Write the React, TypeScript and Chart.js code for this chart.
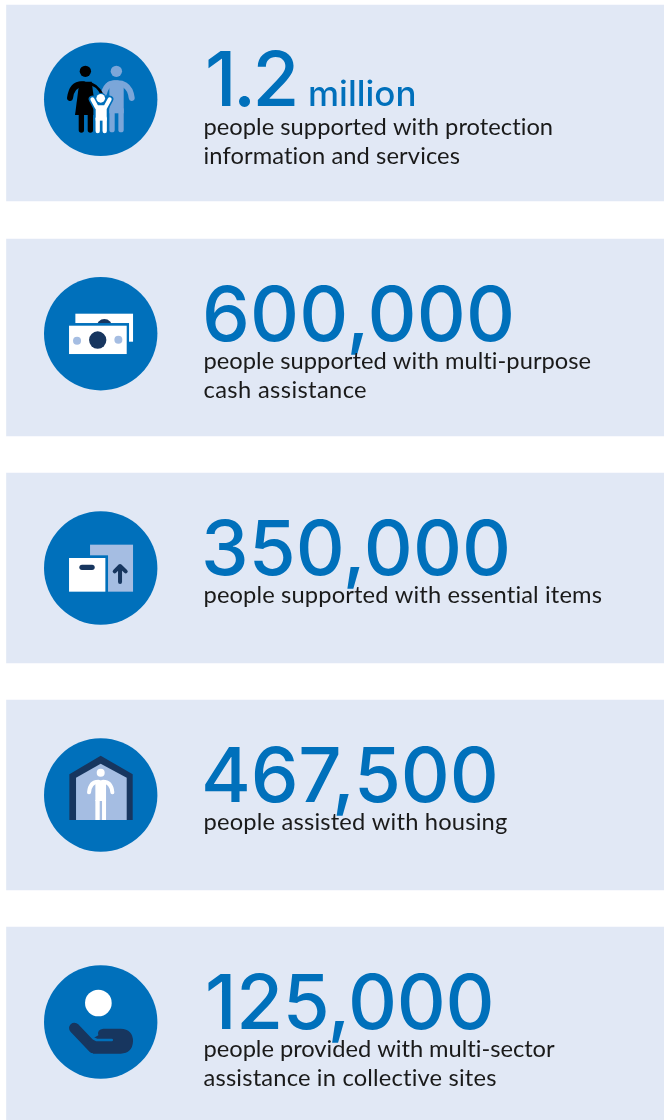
import { useEffect, useRef } from "react";
import { Chart, registerables } from "chart.js";

Chart.register(...registerables);

// ---- data ----
const peopleReached = [1200000, 600000, 350000, 467500, 125000];
const captions = [
  ["people supported with protection", "information and services"],
  ["people supported with multi-purpose", "cash assistance"],
  ["people supported with essential items"],
  ["people assisted with housing"],
  ["people provided with multi-sector", "assistance in collective sites"],
];
const iconNames = ["family", "cash", "items", "housing", "sites"];

// ---- layout (not data) ----
const W = 664;
const H = 1120;
const panelTops = [5, 239, 473, 700, 927];
const panelBottoms = [201, 436, 663, 890, 1120];
const iconCentres = [99.3, 333.7, 568, 795, 1022];
const PANEL_LEFT = 6.5;
const ICON_X = 100.7;
const ICON_R = 56.7;
const TEXT_X = 204;
const HEAD_FONT = "Inter";
const CAP_FONT = "Lato";
const HEAD_SIZE = 76;
const UNIT_SIZE = 35;
const CAP_SIZE = 23.7;
const headShift = [1, -2, -3, -3, 1];
const headSpacing = [-3.5, 0.15, 0.05, -0.2, -0.35];
const capShift = [36, 35.3, 35, 35, 35];
const capWidths = [[350, 257], [388, 163.5], [399], [304], [351.5, 293.5]];

const BLUE = "#0070bb";
const PANEL = "#e1e8f5";
const DARK = "#17365f";
const LIGHT = "#a5bde2";
const MID = "#7ba6d9";

type C = CanvasRenderingContext2D;

function circle(c: C, x: number, y: number, r: number, fill: string) {
  c.fillStyle = fill;
  c.beginPath();
  c.arc(x, y, r, 0, Math.PI * 2);
  c.fill();
}
function rect(c: C, x0: number, y0: number, x1: number, y1: number, fill: string) {
  c.fillStyle = fill;
  c.fillRect(x0, y0, x1 - x0, y1 - y0);
}
function poly(c: C, pts: number[][], fill: string) {
  c.fillStyle = fill;
  c.beginPath();
  pts.forEach((p, i) => (i ? c.lineTo(p[0], p[1]) : c.moveTo(p[0], p[1])));
  c.closePath();
  c.fill();
}
function stroke(c: C, pts: number[][], w: number, col: string) {
  c.strokeStyle = col;
  c.lineWidth = w;
  c.lineCap = "round";
  c.lineJoin = "round";
  c.beginPath();
  pts.forEach((p, i) => (i ? c.lineTo(p[0], p[1]) : c.moveTo(p[0], p[1])));
  c.stroke();
}
function curve(c: C, a: number[], q: number[], b: number[], w: number, col: string) {
  c.strokeStyle = col;
  c.lineWidth = w;
  c.lineCap = "round";
  c.beginPath();
  c.moveTo(a[0], a[1]);
  c.quadraticCurveTo(q[0], q[1], b[0], b[1]);
  c.stroke();
}

// Icons are drawn in a 3x local grid around each circle's centre.
const icons: Record<string, { oy: number; draw: (c: C) => void }> = {
  family: {
    oy: 208,
    draw(c) {
      // man
      circle(c, 259, 124, 17, MID);
      curve(c, [240, 163], [298, 148], [305, 204], 18, MID);
      curve(c, [270, 163], [232, 150], [222, 190], 18, MID);
      rect(c, 238, 158, 281, 250, MID);
      stroke(c, [[246, 240], [246, 299]], 16, MID);
      stroke(c, [[273, 240], [273, 299]], 16, MID);
      // woman
      circle(c, 166, 124, 17, "#000");
      curve(c, [160, 163], [126, 160], [120, 204], 18, "#000");
      curve(c, [172, 160], [200, 160], [218, 196], 8, "#000");
      poly(c, [[148, 155], [185, 155], [198, 255], [135, 255]], "#000");
      stroke(c, [[154, 250], [154, 300]], 16, "#000");
      stroke(c, [[181, 250], [181, 300]], 16, "#000");
      // child
      stroke(c, [[187, 208], [200, 232], [226, 232], [239, 208]], 22, BLUE);
      rect(c, 190, 225, 237, 312, BLUE);
      circle(c, 212, 205, 17, BLUE);
      circle(c, 212, 205, 13, "#fff");
      stroke(c, [[187, 208], [200, 232], [226, 232], [239, 208]], 12, "#fff");
      rect(c, 197, 230, 230, 272, "#fff");
      stroke(c, [[203, 265], [203, 303]], 13, "#fff");
      stroke(c, [[224, 265], [224, 303]], 13, "#fff");
    },
  },
  cash: {
    oy: 206,
    draw(c) {
      rect(c, 136, 146, 309, 230, "#fff");
      circle(c, 223, 186, 24, DARK);
      rect(c, 110, 174, 297, 272, BLUE);
      rect(c, 117, 182, 290, 267, "#fff");
      circle(c, 141, 227, 12, LIGHT);
      circle(c, 265, 224, 12, LIGHT);
      circle(c, 203, 225, 26, DARK);
    },
  },
  items: {
    oy: 204,
    draw(c) {
      rect(c, 180, 134, 309, 275, LIGHT);
      rect(c, 110, 166, 234, 280, BLUE);
      rect(c, 117, 174, 226, 275, "#fff");
      stroke(c, [[156, 202], [186, 202]], 16, DARK);
      stroke(c, [[270, 246], [270, 200]], 12, DARK);
      stroke(c, [[254, 214], [270, 198], [287, 214]], 12, DARK);
    },
  },
  housing: {
    oy: 210,
    draw(c) {
      poly(c, [[118, 285], [118, 148], [212, 92], [308, 148], [308, 285]], DARK);
      poly(c, [[138, 285], [138, 158], [212, 116], [290, 158], [290, 285]], LIGHT);
      circle(c, 212, 143, 12, "#fff");
      curve(c, [177, 202], [180, 170], [205, 170], 12, "#fff");
      curve(c, [247, 202], [244, 170], [219, 170], 12, "#fff");
      rect(c, 196, 166, 228, 228, "#fff");
      rect(c, 196, 225, 209, 285, "#fff");
      rect(c, 216, 225, 228, 285, "#fff");
    },
  },
  sites: {
    oy: 210,
    draw(c) {
      circle(c, 205, 153, 40, "#fff");
      stroke(c, [[133, 228], [190, 288]], 32, DARK);
      c.fillStyle = DARK;
      c.beginPath();
      c.moveTo(220, 230);
      c.lineTo(272, 230);
      c.quadraticCurveTo(309, 232, 309, 268);
      c.quadraticCurveTo(307, 304, 272, 305);
      c.lineTo(190, 305);
      c.lineTo(170, 270);
      c.lineTo(205, 250);
      c.quadraticCurveTo(200, 232, 220, 230);
      c.closePath();
      c.fill();
      stroke(c, [[190, 259], [200, 264], [245, 264]], 8, BLUE);
    },
  },
};

function headline(v: number) {
  return v >= 1e6
    ? { big: String(v / 1e6), unit: "million" }
    : { big: v.toLocaleString("en-US"), unit: "" };
}

const overlay = {
  id: "overlay",
  afterDatasetsDraw(chart: any) {
    const c: any = chart.ctx;
    const xs = chart.scales.x;
    const ys = chart.scales.y;
    const px = xs.getPixelForValue(ICON_X);
    c.save();
    iconCentres.forEach((cy, i) => {
      const py = ys.getPixelForValue(cy);
      const icon = icons[iconNames[i]];
      c.save();
      c.translate(px, py);
      c.scale(1 / 3, 1 / 3);
      c.translate(-212, -icon.oy);
      icon.draw(c);
      c.restore();

      const h = headline(peopleReached[i]);
      const tx = xs.getPixelForValue(TEXT_X);
      c.textAlign = "left";
      c.textBaseline = "alphabetic";
      c.fillStyle = BLUE;
      c.font = `450 ${HEAD_SIZE}px ${HEAD_FONT}`;
      c.letterSpacing = `${headSpacing[i]}px`;
      c.fillText(h.big, tx + headShift[i], py + 7);
      c.letterSpacing = "0px";
      if (h.unit) {
        c.font = `500 ${UNIT_SIZE}px ${HEAD_FONT}`;
        c.fillText(h.unit, tx + 104, py + 7);
      }
      c.fillStyle = "#1a1a1a";
      c.font = `${CAP_SIZE}px ${CAP_FONT}`;
      captions[i].forEach((line: string, j: number) => {
        c.letterSpacing = "0px";
        const natural = c.measureText(line).width;
        c.letterSpacing = `${(capWidths[i][j] - natural) / line.length}px`;
        c.fillText(line, tx - 0.5, py + capShift[i] + j * 28.8);
      });
      c.letterSpacing = "0px";
    });
    c.restore();
  },
};

export default function App() {
  const ref = useRef<HTMLCanvasElement>(null);
  useEffect(() => {
    const chart = new Chart(ref.current!, {
      type: "bar",
      data: {
        datasets: [
          {
            type: "bubble",
            order: 0,
            data: iconCentres.map((y) => ({ x: ICON_X, y, r: ICON_R })),
            backgroundColor: BLUE,
            borderWidth: 0,
          } as any,
          {
            type: "bar",
            order: 1,
            data: panelTops.map((t, i) => ({ x: (PANEL_LEFT + W) / 2, y: [t, panelBottoms[i]] })),
            backgroundColor: PANEL,
            borderWidth: 0,
            barThickness: W - PANEL_LEFT,
          } as any,
        ],
      },
      options: {
        responsive: false,
        animation: false,
        events: [],
        layout: { padding: 0, autoPadding: false },
        plugins: { legend: { display: false }, tooltip: { enabled: false } },
        scales: {
          x: { type: "linear", min: 0, max: W, display: false, offset: false },
          y: { type: "linear", min: 0, max: H, reverse: true, display: false },
        },
      },
      plugins: [overlay],
    } as any);
    return () => chart.destroy();
  }, []);
  return (
    <div style={{ position: "absolute", left: 0, top: 0, width: W, height: H, background: "#fff" }}>
      <canvas ref={ref} width={W} height={H} style={{ display: "block" }} />
    </div>
  );
}
